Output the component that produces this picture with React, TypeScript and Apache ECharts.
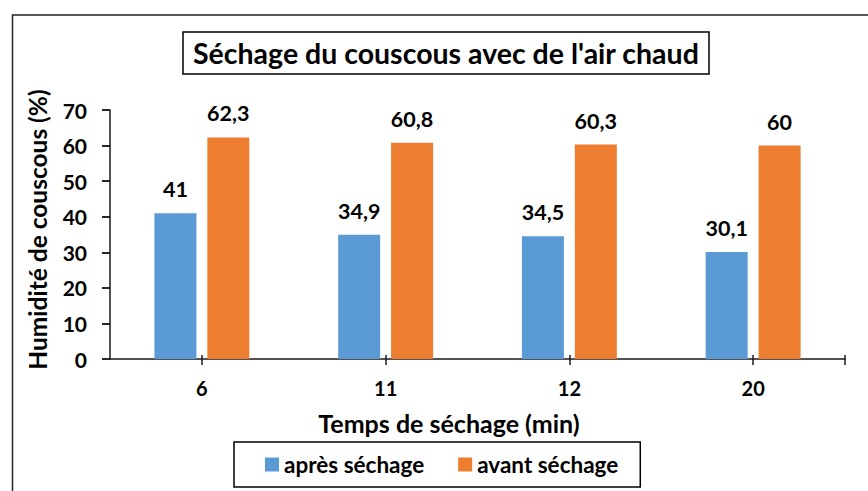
import React, { useEffect, useRef } from "react";
import * as echarts from "echarts";

const categories = ["6", "11", "12", "20"];
const apresSechage = [41, 34.9, 34.5, 30.1];
const avantSechage = [62.3, 60.8, 60.3, 60];
const seriesNames = ["après séchage", "avant séchage"];
const yTicks = { min: 0, max: 70, interval: 10 };

const FONT = "Lato";

export default function App() {
  const ref = useRef<HTMLDivElement>(null);
  useEffect(() => {
    if (!ref.current) return;
    const chart = echarts.init(ref.current, undefined, { renderer: "svg" });
    const n = categories.length;
    const tickVals = categories.map((_, i) => i + 0.5).concat([n]);
    const fmt = (p: any) => String(p.value).replace(".", ",");
    const axisCol = "#1a1a1a";
    chart.setOption({
      animation: false,
      backgroundColor: "#fff",
      textStyle: { fontFamily: FONT },
      title: {
        text: "Séchage du couscous avec de l'air chaud",
        left: 183,
        top: 32,
        padding: [6, 10, 7, 10],
        borderColor: "#000",
        borderWidth: 1.5,
        textStyle: { fontFamily: FONT, fontWeight: "bold", fontSize: 28.5, color: "#000" },
      },
      legend: {
        left: 234,
        top: 442,
        padding: [11, 22, 11, 31],
        borderColor: "#000",
        borderWidth: 1.5,
        itemWidth: 14,
        itemHeight: 14,
        itemGap: 34,
        icon: "rect",
        textStyle: { fontFamily: FONT, fontWeight: "bold", fontSize: 22.5, color: "#000" },
        data: seriesNames,
      },
      grid: { left: 110, right: 23, top: 110, bottom: 132, containLabel: false },
      xAxis: [
        {
          type: "category",
          data: categories,
          axisLine: { show: true, lineStyle: { color: axisCol, width: 1.5 } },
          axisTick: { show: false },
          axisLabel: { margin: 19, fontFamily: FONT, fontWeight: "bold", fontSize: 20, color: "#000" },
          name: "Temps de séchage (min)",
          nameLocation: "middle",
          nameGap: 51,
          nameTextStyle: { fontFamily: FONT, fontWeight: "bold", fontSize: 25, color: "#000", padding: [0, 57, 0, 0] },
        },
        {
          type: "value",
          min: 0,
          max: n,
          position: "bottom",
          axisLine: { show: false },
          axisTick: { show: true, customValues: tickVals, length: 6, lineStyle: { color: axisCol, width: 1.5 } },
          axisLabel: { show: false },
          splitLine: { show: false },
        },
        {
          type: "value",
          min: 0,
          max: n,
          position: "bottom",
          axisLine: { show: false },
          axisTick: { show: true, inside: true, customValues: tickVals, length: 4, lineStyle: { color: axisCol, width: 1.5 } },
          axisLabel: { show: false },
          splitLine: { show: false },
        },
      ],
      yAxis: [
        {
          type: "value",
          min: yTicks.min,
          max: yTicks.max,
          interval: yTicks.interval,
          axisLine: { show: true, lineStyle: { color: axisCol, width: 1.5 } },
          axisTick: { show: true, length: 8, lineStyle: { color: axisCol, width: 1.5 } },
          axisLabel: { margin: 23, fontFamily: FONT, fontWeight: "bold", fontSize: 21, color: "#000" },
          splitLine: { show: false },
          name: "Humidité de couscous (%)",
          nameLocation: "middle",
          nameGap: 60,
          nameTextStyle: { fontFamily: FONT, fontWeight: "bold", fontSize: 24.5, color: "#000", padding: [0, 0, 0, 10] },
        },
        {
          type: "value",
          min: yTicks.min,
          max: yTicks.max,
          interval: yTicks.interval,
          axisLine: { show: false },
          axisTick: { show: true, inside: true, length: 8, lineStyle: { color: axisCol, width: 1.5 } },
          axisLabel: { show: false },
          splitLine: { show: false },
        },
      ],
      series: [
        {
          name: seriesNames[0],
          type: "bar",
          data: apresSechage,
          barWidth: 42,
          barGap: "26%",
          itemStyle: { color: "#5B9BD5" },
          label: { show: true, position: "top", distance: 13, formatter: fmt, fontFamily: FONT, fontWeight: "bold", fontSize: 21.5, color: "#000" },
        },
        {
          name: seriesNames[1],
          type: "bar",
          data: avantSechage,
          barWidth: 42,
          barGap: "26%",
          itemStyle: { color: "#ED7D31" },
          label: { show: true, position: "top", distance: 13, formatter: fmt, fontFamily: FONT, fontWeight: "bold", fontSize: 21.5, color: "#000" },
        },
      ],
      graphic: [
        {
          type: "rect",
          shape: { x: 12.5, y: 15, width: 900, height: 600 },
          style: { fill: "none", stroke: "#222", lineWidth: 1.5 },
          silent: true,
          z: -1,
        },
      ],
    });
    return () => chart.dispose();
  }, []);
  return <div ref={ref} style={{ position: "absolute", left: 0, top: 0, width: 868, height: 491 }} />;
}
